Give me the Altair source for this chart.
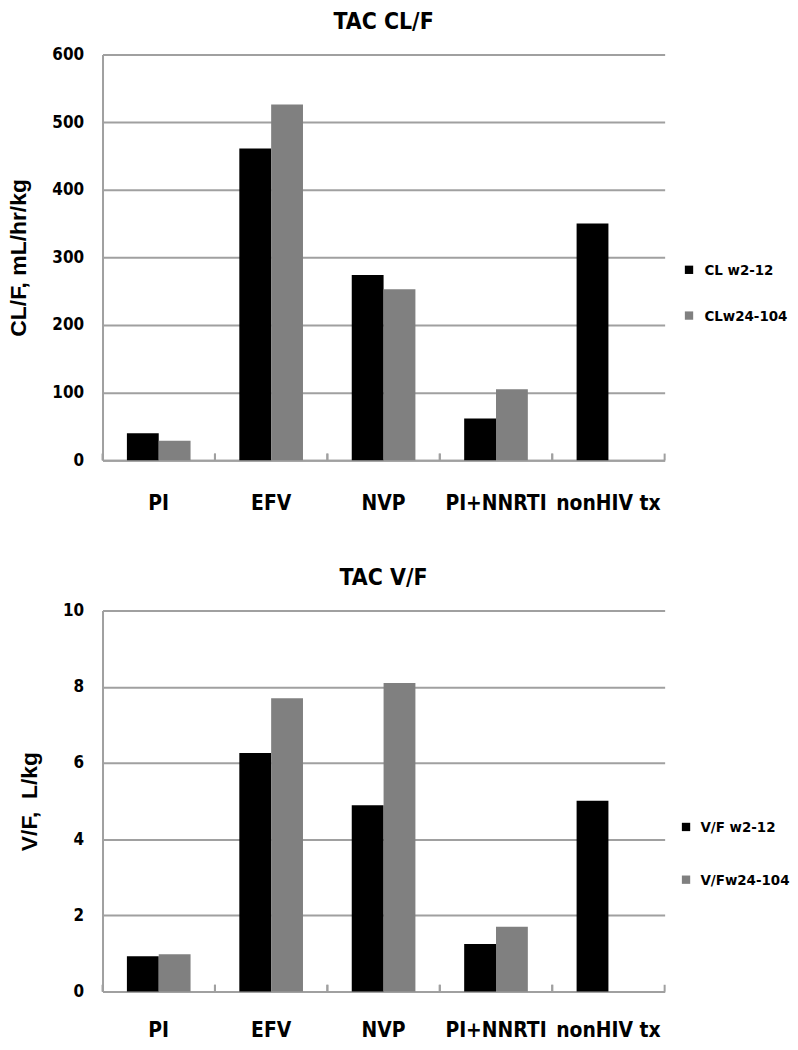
import altair as alt
import pandas as pd

categories = ["PI", "EFV", "NVP", "PI+NNRTI", "nonHIV tx"]

cl_series = ["CL w2-12", "CLw24-104"]
cl_w2_12 = [40, 461, 274, 62, 350]
cl_w24_104 = [29, 526, 253, 105, None]

vf_series = ["V/F w2-12", "V/Fw24-104"]
vf_w2_12 = [0.93, 6.26, 4.89, 1.25, 5.01]
vf_w24_104 = [0.98, 7.70, 8.10, 1.70, None]

NARROW = "DejaVu Sans Condensed, Liberation Sans Narrow, sans-serif"
WIDE = "Liberation Sans, Arial, sans-serif"
GRID = "#a0a0a0"
COLORS = ["#000000", "#808080"]
WIDTH = 565


def make_df(series, a, b):
    rows = []
    for c, v in zip(categories, a):
        if v is not None:
            rows.append({"cat": c, "series": series[0], "value": v})
    for c, v in zip(categories, b):
        if v is not None:
            rows.append({"cat": c, "series": series[1], "value": v})
    return pd.DataFrame(rows)


def x_axis(pad):
    return alt.Axis(
        title=None, labelAngle=0, ticks=False, grid=False,
        domainColor=GRID, domainWidth=2,
        labelFont=NARROW, labelFontSize=21, labelFontWeight="bold",
        labelColor="black", labelPadding=pad,
    )


def panel(df, title, ytitle, ymax, ystep, height, series, tick_len,
          legend_x, legend_y, row_pad, label_offset, xpad, toff):
    xs = alt.Scale(paddingInner=0, paddingOuter=0)
    xa = x_axis(xpad)
    bars = alt.Chart(df).mark_bar().encode(
        x=alt.X("cat:N", sort=categories, scale=xs, axis=xa),
        xOffset=alt.XOffset(
            "series:N", sort=series,
            scale=alt.Scale(domain=series, paddingInner=0, paddingOuter=0.766),
        ),
        y=alt.Y(
            "value:Q",
            scale=alt.Scale(domain=[0, ymax], nice=False),
            axis=alt.Axis(
                title=ytitle, values=list(range(0, ymax + 1, ystep)),
                ticks=False, domainColor=GRID, domainWidth=2,
                gridColor=GRID, gridWidth=2,
                labelFont=NARROW, labelFontSize=17, labelFontWeight="bold",
                labelColor="black", labelPadding=19,
                titleFont=WIDE, titleFontSize=23, titleFontWeight="bold",
                titleColor="black", titlePadding=21,
            ),
        ),
        color=alt.Color(
            "series:N", sort=series,
            scale=alt.Scale(domain=series, range=COLORS),
            legend=alt.Legend(
                title=None, orient="none", legendX=legend_x, legendY=legend_y,
                symbolType="square", symbolSize=70, symbolStrokeWidth=0,
                labelFont=NARROW, labelFontSize=15, labelFontWeight="bold",
                labelColor="black", rowPadding=row_pad, labelOffset=label_offset,
            ),
        ),
    )

    tick_df = pd.DataFrame({"cat": categories})
    ticks_start = alt.Chart(tick_df).mark_rule(color=GRID, strokeWidth=2).encode(
        x=alt.X("cat:N", sort=categories, bandPosition=0, scale=xs, axis=xa),
        y=alt.datum(0),
        y2=alt.datum(tick_len),
    )
    ticks_end = alt.Chart(tick_df).mark_rule(color=GRID, strokeWidth=2).encode(
        x=alt.X("cat:N", sort=categories, bandPosition=1, scale=xs, axis=xa),
        y=alt.datum(0),
        y2=alt.datum(tick_len),
    )

    return alt.layer(bars, ticks_start, ticks_end).properties(
        width=WIDTH,
        height=height,
        title=alt.Title(title, font=NARROW, fontSize=23, fontWeight="bold",
                        color="black", offset=toff),
    )


top = panel(make_df(cl_series, cl_w2_12, cl_w24_104), "TAC CL/F",
            "CL/F, mL/hr/kg", 600, 100, 408, cl_series, 10,
            582, 209, 30, 8, 32, 12)
bottom = panel(make_df(vf_series, vf_w2_12, vf_w24_104), "TAC V/F",
               "V/F,\u00a0 L/kg", 10, 2, 383, vf_series, 0.18,
               579, 210, 37, 7, 28, 12)

chart = (
    alt.vconcat(top, bottom, spacing=54)
    .resolve_scale(color="independent", x="independent",
                   xOffset="independent", y="independent")
    .configure(background="white", padding=0)
    .configure_view(stroke=None)
)

chart.save("out.html", embed_options={"renderer": "svg", "actions": False})
